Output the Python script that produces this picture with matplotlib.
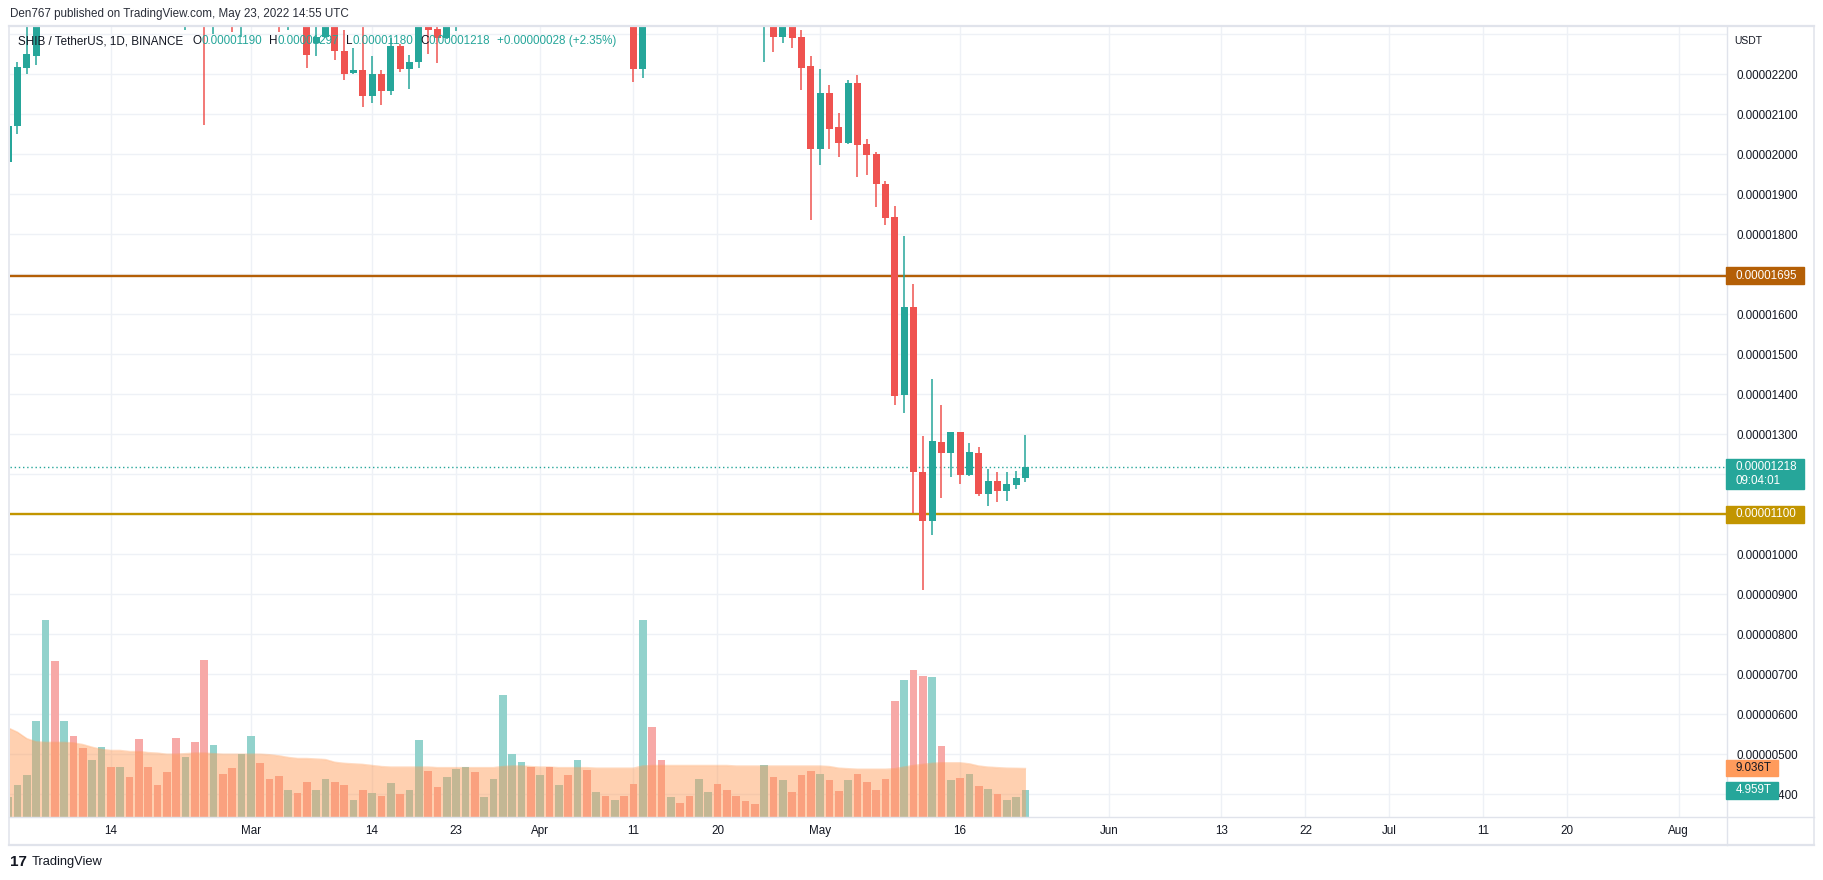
import matplotlib
matplotlib.use('Agg')
import matplotlib.pyplot as plt
import matplotlib.dates as mdates
from matplotlib.patches import Rectangle
from matplotlib.lines import Line2D
import numpy as np
import pandas as pd

plt.rcParams['font.family'] = ['Liberation Sans', 'DejaVu Sans']

# ---- data (prices in 1e-6 USDT, volume in T) ----
start_date = '2022-02-03'

opens = [
    19.80, 20.71, 22.16, 22.46, 25.80, 30.50, 28.60, 30.10, 28.50, 27.00,
    27.50, 28.40, 27.90, 28.80, 28.10, 26.50, 25.70, 25.50, 24.60, 23.80,
    24.20, 23.90, 23.50, 24.30, 24.00, 23.50,
    24.80, 25.50, 25.00, 24.30, 23.40, 23.70, 23.30, 22.77, 22.93, 23.50,
    22.57, 22.03, 22.09, 21.46, 21.99, 21.58, 22.69, 22.13, 22.29, 23.60,
    23.12, 22.90, 23.80, 24.30, 24.80, 24.50, 24.70, 25.30, 27.50, 28.00, 28.30,
    27.00, 27.50, 27.00, 27.60, 27.00, 27.40, 25.00, 25.50, 24.60, 24.80,
    24.50, 22.13, 26.50, 25.50, 24.60, 24.80, 24.60, 24.00, 24.60, 25.00,
    24.50, 24.00, 23.90, 23.70, 23.50, 24.00, 22.93, 23.50, 22.93, 22.20,
    20.13, 21.53, 20.68, 20.28, 21.78, 20.25, 20.00, 19.25, 18.43, 13.98,
    16.18, 12.05, 10.83, 12.80, 12.53, 13.05, 11.98, 12.53, 11.51, 11.83,
    11.58, 11.73, 11.90]

highs = [
    20.90, 22.30, 23.60, 26.20, 31.50, 32.00, 30.80, 31.00, 29.20, 28.00,
    29.00, 28.90, 29.20, 29.00, 28.40, 27.00, 26.00, 25.70, 25.40, 24.50,
    24.90, 24.30, 24.60, 24.90, 24.40, 25.00,
    25.90, 25.80, 25.20, 24.40, 23.90, 23.80, 23.60, 23.40, 23.80, 23.60,
    23.10, 22.64, 23.40, 22.44, 22.09, 22.90, 22.75, 22.47, 23.80, 23.80,
    23.50, 24.00, 24.50, 25.00, 25.20, 24.90, 25.50, 28.00, 28.60, 28.80, 28.60,
    27.80, 28.00, 27.90, 27.70, 28.20, 27.50, 25.80, 25.70, 25.00, 25.10,
    24.60, 27.00, 27.50, 25.90, 25.00, 25.00, 24.80, 24.80, 25.30, 25.40,
    25.20, 24.30, 24.10, 23.90, 24.30, 24.40, 23.60, 23.90, 23.09, 22.45,
    22.12, 21.73, 21.03, 21.85, 21.98, 20.38, 20.05, 19.33, 18.70, 17.95,
    16.75, 12.95, 14.38, 13.73, 13.05, 13.05, 12.78, 12.68, 12.13, 12.05,
    12.05, 12.08, 12.97]

lows = [
    19.60, 20.51, 22.01, 22.22, 25.40, 27.50, 28.10, 27.90, 26.60, 26.50,
    27.20, 27.40, 27.60, 27.80, 26.20, 25.40, 25.20, 24.30, 23.50, 23.09,
    23.60, 20.72, 23.00, 23.70, 23.05, 22.92,
    24.30, 24.60, 23.90, 23.05, 23.09, 23.25, 22.16, 22.46, 22.90, 22.34,
    21.85, 22.00, 21.18, 21.28, 21.23, 21.48, 22.05, 21.63, 22.16, 22.51,
    22.28, 22.88, 23.07, 23.70, 24.20, 24.30, 24.50, 25.00, 27.00, 27.40, 26.80,
    26.30, 26.80, 26.80, 26.40, 26.90, 24.80, 24.70, 24.40, 24.40, 24.20,
    21.80, 21.90, 25.30, 24.30, 24.40, 24.50, 23.80, 23.40, 24.40, 24.40,
    23.90, 23.70, 23.60, 23.30, 22.30, 22.55, 22.78, 22.65, 21.61, 18.36,
    19.72, 20.13, 19.93, 20.26, 19.43, 19.48, 18.68, 18.23, 13.73, 13.53,
    11.02, 9.10, 10.48, 11.41, 11.93, 11.76, 11.96, 11.46, 11.21, 11.31,
    11.33, 11.63, 11.80]

closes = [
    20.71, 22.18, 22.49, 25.80, 30.50, 28.60, 30.10, 28.50, 27.00, 27.50,
    28.40, 27.90, 28.80, 28.10, 26.50, 25.70, 25.50, 24.60, 23.80, 24.20,
    23.90, 23.50, 24.30, 24.00, 23.50, 24.80,
    25.50, 25.00, 24.30, 23.40, 23.70, 23.30, 22.47, 22.92, 23.50, 22.57,
    22.01, 22.09, 21.46, 21.99, 21.58, 22.69, 22.13, 22.29, 23.60, 23.10,
    22.90, 23.80, 24.30, 24.80, 24.50, 24.70, 25.30, 27.50, 28.00, 28.30, 27.00,
    27.50, 27.00, 27.60, 27.00, 27.40, 25.00, 25.50, 24.60, 24.80, 24.50,
    22.13, 26.50, 25.50, 24.60, 24.80, 24.60, 24.00, 24.60, 25.00, 24.50,
    24.00, 23.90, 23.70, 23.50, 24.00, 22.93, 23.50, 22.91, 22.16, 20.13,
    21.53, 20.63, 20.28, 21.78, 20.23, 19.98, 19.26, 18.41, 13.96, 16.18,
    12.06, 10.83, 12.83, 12.53, 13.05, 11.98, 12.55, 11.51, 11.83, 11.58,
    11.75, 11.90, 12.18]

volume = [
    3.7, 5.9, 7.8, 17.8, 36.6, 29.0, 17.8, 15.0, 12.8, 10.7,
    13.0, 9.3, 9.3, 7.4, 14.5, 9.4, 5.9, 8.3, 14.7, 11.1,
    13.9, 29.2, 13.4, 8.0, 9.1, 11.7,
    15.0, 10.0, 7.0, 7.6, 5.0, 4.4, 6.5, 5.0, 7.0, 6.6,
    5.9, 3.1, 5.0, 4.4, 3.9, 6.3, 4.2, 5.0, 14.3, 8.5,
    5.5, 7.4, 8.9, 9.3, 8.3, 3.7, 7.0, 22.7, 11.7, 10.2, 9.3,
    7.8, 9.3, 5.9, 7.8, 10.6, 8.7, 4.6, 4.0, 3.1, 3.9,
    6.1, 36.6, 16.7, 10.7, 3.7, 2.7, 3.9, 7.0, 4.6, 6.1,
    5.0, 3.9, 2.9, 2.5, 9.6, 7.4, 6.8, 4.6, 7.8, 8.5,
    8.1, 6.8, 4.8, 6.8, 8.1, 6.6, 5.0, 7.0, 21.6, 25.5,
    27.3, 26.2, 26.0, 13.2, 6.8, 7.2, 8.0, 5.7, 5.3, 4.2,
    3.1, 3.7, 4.959]

vol_ma = [
    16.6, 15.8, 14.6, 14.0, 13.9, 13.9, 13.9, 13.8, 13.5, 13.0,
    12.6, 12.4, 12.4, 12.2, 12.2, 12.0, 11.9, 11.7, 11.7, 11.8,
    11.9, 11.9, 11.8, 11.7, 11.7, 11.7,
    11.7, 11.7, 11.6, 11.4, 11.1, 10.9, 10.9, 10.8, 10.7, 10.2,
    10.0, 9.9, 9.8, 9.6, 9.4, 9.3, 9.3, 9.3, 9.3, 9.3,
    9.2, 9.2, 9.2, 9.2, 9.2, 9.2, 9.2, 9.4, 9.5, 9.5, 9.4,
    9.3, 9.3, 9.2, 9.2, 9.2, 9.2, 9.1, 9.1, 9.1, 9.1,
    9.1, 9.5, 9.6, 9.6, 9.6, 9.6, 9.6, 9.6, 9.6, 9.6,
    9.6, 9.5, 9.5, 9.5, 9.5, 9.5, 9.5, 9.5, 9.5, 9.5,
    9.5, 9.4, 9.1, 9.0, 8.9, 8.9, 8.9, 8.9, 9.0, 9.3,
    9.6, 9.8, 10.0, 10.1, 10.1, 10.1, 9.9, 9.5, 9.3, 9.2,
    9.1, 9.07, 9.036]

level_high = 16.95
level_low = 11.00
countdown = '09:04:01'

price_ticks = list(range(4, 24))
time_ticks = ['2022-02-14', '2022-03-01', '2022-03-14', '2022-03-23', '2022-04-01',
              '2022-04-11', '2022-04-20', '2022-05-01', '2022-05-16', '2022-06-01',
              '2022-06-13', '2022-06-22', '2022-07-01', '2022-07-11', '2022-07-20',
              '2022-08-01']
time_labels = ['14', 'Mar', '14', '23', 'Apr', '11', '20', 'May', '16', 'Jun',
               '13', '22', 'Jul', '11', '20', 'Aug']

# ---- colours ----
UP = '#26A69A'
DOWN = '#EF5350'
UP_VOL = '#92D2CC'
DOWN_VOL = '#F7A9A7'
MA_COL = '#FF9850'
GRID = '#EEF1F6'
BORDER = '#E0E3EB'
TXT = '#131722'
LVL_HI = '#B45F06'
LVL_LO = '#C29500'
FS = 8.4

W, H = 1824, 880
fig = plt.figure(figsize=(W / 100, H / 100), dpi=100)
fig.patch.set_facecolor('white')


def fx(px):
    return px / W


def fy(py):
    return 1 - py / H


# plot pane in pixels
L, R, T, B = 10, 1727, 26, 817
ax = fig.add_axes([fx(L), fy(B), (R - L) / W, (B - T) / H])
ax2 = ax.twinx()

dates = pd.date_range(start_date, periods=len(closes), freq='D')
x = mdates.date2num(dates)
o = np.array(opens)
h = np.array(highs)
lo = np.array(lows)
c = np.array(closes)
up = c >= o

px_per_day = 9.333
x_left = mdates.date2num(pd.Timestamp('2022-05-01')) - 86.8
ax.set_xlim(x_left, x_left + (R - L) / px_per_day)
ax.set_ylim(3.425, 23.2)
ax2.set_ylim(0, (B - T) / 5.37)

# grid
ax.set_axisbelow(True)
for p in price_ticks:
    ax.axhline(p, color=GRID, lw=1, zorder=0)
for d in time_ticks:
    ax.axvline(mdates.date2num(pd.Timestamp(d)), color=GRID, lw=1, zorder=0)

# level lines
ax.axhline(level_high, color=LVL_HI, lw=1.7, zorder=2)
ax.axhline(level_low, color=LVL_LO, lw=1.7, zorder=2)
ax.axhline(closes[-1], color=UP, lw=1, linestyle=(0, (1, 2)), zorder=2)

# candles
cols = np.where(up, UP, DOWN)
ax.vlines(x, lo, h, colors=cols, lw=1.1, zorder=3)
body_lo = np.minimum(o, c)
body_h = np.maximum(np.abs(c - o), 0.03)
ax.bar(x, body_h, bottom=body_lo, width=0.75, color=cols, linewidth=0, zorder=4)

# volume + MA
vcols = np.where(up, UP_VOL, DOWN_VOL)
ax2.bar(x, volume, width=0.84, color=vcols, linewidth=0, zorder=2)
ax2.fill_between(x, 0, vol_ma, color=MA_COL, alpha=0.45, linewidth=0, zorder=3)
ax2.plot(x, vol_ma, color=MA_COL, alpha=0.35, lw=1, zorder=3)

# axes styling
for a in (ax, ax2):
    for s in a.spines.values():
        s.set_visible(False)
ax2.set_yticks([])
ax.yaxis.tick_right()
ax.set_yticks(price_ticks)
# labels hidden behind the price tags are left out
covered = {round(level_high), round(level_low), round(closes[-1]), 23}
ax.set_yticklabels(['' if p in covered else f'{p * 1e-6:.8f}' for p in price_ticks])
ax.tick_params(axis='y', length=0, pad=6.5, labelsize=FS, labelcolor=TXT)
ax.set_xticks([mdates.date2num(pd.Timestamp(d)) for d in time_ticks])
ax.set_xticklabels(time_labels)
ax.tick_params(axis='x', length=0, pad=6, labelsize=FS, labelcolor=TXT)
for lab in ax.get_yticklabels():
    lab.set_horizontalalignment('left')


# frame lines (pixels)
def hline(py, x0, x1, lw):
    fig.add_artist(Line2D([fx(x0), fx(x1)], [fy(py), fy(py)], color=BORDER, lw=lw))


def vline(px, y0, y1, lw):
    fig.add_artist(Line2D([fx(px), fx(px)], [fy(y0), fy(y1)], color=BORDER, lw=lw))


hline(26, 9, 1814, 1.6)
hline(845, 9, 1814, 1.6)
hline(817, 9, 1814, 1.0)
vline(9.5, 26, 845, 1.1)
vline(1814, 26, 845, 1.1)
vline(1727, 26, 845, 1.0)


# price-scale tags
def tag(axis, value, color, lines, tcolor, x1, above, below):
    yc = axis.transData.transform((0, value))[1]
    fig.add_artist(Rectangle((fx(1726), (yc - below) / H), (x1 - 1726) / W,
                             (above + below) / H, transform=fig.transFigure,
                             color=color, zorder=5))
    for i, s in enumerate(lines):
        fig.text(fx(1736), (yc - i * 14.5) / H, s, color=tcolor, fontsize=FS,
                 va='center', ha='left', zorder=6)


tag(ax, level_high, LVL_HI, [f'{level_high * 1e-6:.8f}'], 'white', 1804, 8.5, 8.5)
tag(ax, level_low, LVL_LO, [f'{level_low * 1e-6:.8f}'], 'white', 1804, 8.5, 8.5)
tag(ax, closes[-1], UP, [f'{closes[-1] * 1e-6:.8f}', countdown], 'white', 1804, 8, 22)
tag(ax2, vol_ma[-1], '#FF9B5C', [f'{vol_ma[-1]:.3f}T'], TXT, 1778, 8.5, 8)
tag(ax2, volume[-1], UP, [f'{volume[-1]:.3f}T'], 'white', 1778, 8.5, 8.5)

fig.text(fx(1734), fy(41), 'USDT', color=TXT, fontsize=7.5, va='center', ha='left')

# header
fig.text(fx(10), fy(14), 'Den767 published on TradingView.com, May 23, 2022 14:55 UTC',
         color='#2A2E39', fontsize=FS, va='center', ha='left')

# legend line
prev = closes[-2]
chg = closes[-1] - prev
parts = [
    ('SHIB / TetherUS, 1D, BINANCE', TXT, 9),
    ('O', TXT, 0), (f'{opens[-1] * 1e-6:.8f}', UP, 7),
    ('H', TXT, 0), (f'{highs[-1] * 1e-6:.8f}', UP, 7),
    ('L', TXT, 0), (f'{lows[-1] * 1e-6:.8f}', UP, 7),
    ('C', TXT, 0), (f'{closes[-1] * 1e-6:.8f}', UP, 7),
    (f'{chg * 1e-6:+.8f} ({chg / prev * 100:+.2f}%)', UP, 0),
]
renderer = fig.canvas.get_renderer()
cx = 18
for s, col, gap in parts:
    t = fig.text(fx(cx), fy(41), s, color=col, fontsize=FS, va='center', ha='left', zorder=6)
    cx += t.get_window_extent(renderer).width + gap

# bottom logo
fig.text(fx(10), fy(862), '17', color='#131722', fontsize=11, fontweight='bold',
         va='center', ha='left')
fig.text(fx(32), fy(862), 'TradingView', color='#131722', fontsize=9.3,
         va='center', ha='left')

fig.savefig('out.png', dpi=100, facecolor='white')
